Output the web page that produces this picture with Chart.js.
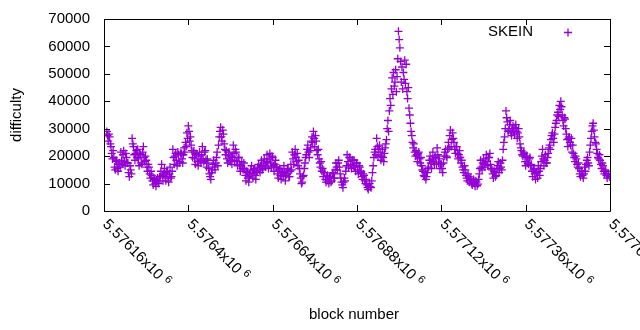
<!DOCTYPE html>
<html>
<head>
<meta charset="utf-8">
<script src="https://cdn.jsdelivr.net/npm/chart.js@4.4.1/dist/chart.umd.min.js"></script>
<style>
  html, body { margin: 0; padding: 0; background: #fff; }
  canvas { display: block; }
</style>
</head>
<body>
<canvas id="chart" width="640" height="330"></canvas>
<script>
// block range and sampling step of the SKEIN series
var firstBlock = 5576168;
var blockStep = 2;

// SKEIN difficulty, one value per sampled block
var skeinDifficulty = [
  29000, 27500, 25500, 28000, 27000, 24500,
  23500, 21000, 19000, 22000,
  19500, 16000, 15000, 18500, 18000, 15500, 14500, 17000, 17500, 16000,
  21500, 18500, 17000, 20500, 22000, 18000, 16500, 21000, 19500, 17500,
  17500, 14000, 12500, 16500, 15000, 13500,
  26500, 24500,
  23500, 20500, 18500, 21000, 22000, 19500,
  22500, 19000, 16500, 21000, 20500, 17500, 17000, 21500, 23500, 19500, 18000, 20000,
  18500, 16000, 14500, 17000, 16000, 13500, 12000, 14500,
  13000, 11000, 9500, 12000, 11500, 10000, 9000, 11000, 12000, 10500, 10000, 12500,
  12500, 14500, 17000, 13000, 11000, 13500,
  15500, 12500, 11000, 14000, 14500, 12000, 10500, 13500, 16000, 12000, 12500, 14500,
  22500, 19500, 17000, 20000, 21000, 18500, 16500, 21500, 20500, 17500, 18000, 21000,
  21000, 19000, 17500, 20500, 23000, 21500, 25000, 23500,
  28500, 26500, 31000, 29000, 25500, 27000,
  24000, 22000, 19500, 21500,
  22000, 19000, 17000, 21000, 20500, 18000, 16500, 20000, 21500, 18500,
  17500, 20500, 23500, 19000, 18000, 21500, 22000, 18500, 16000, 19000,
  17500, 15500, 13500, 12500, 11500, 14000, 15000, 17000,
  18500, 16000, 15000, 17500, 19500, 21500, 16500, 24000,
  27000, 29000, 30500, 27000, 25500, 29500, 28000, 24500, 22500, 20500,
  22000, 19000, 17500, 20500, 21500, 18500, 18000, 20000,
  17000, 19500, 24000, 21000, 18500, 22500, 21500, 18000, 16500, 19500,
  19500, 17000, 14500, 16500, 18000, 15500, 15000, 17500,
  15500, 13000, 11000, 14500, 14000, 12000, 10500, 12500, 13500, 15000,
  16500, 13500, 12000, 15000, 15500, 13000, 11500, 14000, 14500, 16000, 17000, 15000,
  14000, 16500, 18500, 15000, 15500, 17500, 19000, 16500, 16000, 18000,
  20500, 18000, 15500, 19000, 21000, 17500, 16000, 20000, 19500, 16500, 14500, 17000, 18500, 16000,
  16000, 13500, 12000, 15000, 15500, 13000, 11500, 14500, 14000, 12500, 16500,
  14000, 11000, 13000, 13500, 15000, 15500, 12500, 12500, 14500, 17000, 15000,
  21500, 19000, 17000, 20500, 22500, 19500, 18000, 21000, 16500, 18500,
  15500, 13500, 12000, 10000, 10500, 12500, 13000, 15500, 17500, 19500,
  20500, 22500, 24000, 21500, 19500, 22000, 23000, 25500,
  27000, 25000, 29000, 26500, 23500, 27500, 25500, 22000, 20500, 22500,
  19000, 17500, 16000, 18000, 14500, 15500, 12500, 14000,
  14000, 11500, 10500, 12500, 13000, 11000, 10000, 12000, 12500, 10500, 11000, 13500, 14000, 12000, 12000, 15000,
  17500, 16000, 15000, 17500, 18500, 16000, 13500, 12000,
  10500, 9500, 8500, 10500, 12000, 11000, 14500, 16500,
  20500, 18000, 16000, 19500, 19500, 17000, 15500, 18500, 18500, 16500,
  18500, 16000, 14500, 17500, 17500, 15000, 13500, 16500, 16000, 14000,
  14500, 12500, 11500, 13500, 13000, 11000, 10000, 11500,
  9500, 8500, 7800, 9000, 10000, 8800, 8500, 11000,
  14000, 16500, 19500, 21500,
  22500, 20500, 26500, 23500, 20000, 22500,
  24000, 21500, 18500, 20000, 22500, 19500, 18000, 21000, 23000, 24500,
  26000, 30000, 33000, 29000,
  36500, 41000, 38500, 44500,
  48500, 42500, 50500, 45500, 47000, 51500, 43500, 49000,
  55500, 65500, 62500, 59500,
  54500, 47000, 52500, 44500, 50500, 48000, 55000, 46500,
  53500, 43500, 41000, 45000, 37500, 35000, 32000, 29000,
  27500, 25000, 23000, 24500, 21500, 20000,
  22000, 20500, 18000, 21000, 21500, 19000, 17500, 19500,
  16500, 15000, 14500, 13000, 12500, 14000, 11500, 12500, 14000, 15500,
  16000, 18500, 20000, 17500, 15500, 19000, 21500, 18000, 17000, 20000, 19500, 17000,
  23000, 20500, 17500, 19000, 15500, 17000,
  17000, 15500, 14000, 17500, 20000, 21500, 22500, 20000,
  19500, 22500, 25000, 23000, 27500, 29500, 23500, 26000,
  28500, 26500, 25000, 22500, 21000, 23500,
  23500, 21000, 19000, 20500, 22000, 19500,
  17500, 18500, 16000, 15000, 14000, 16500, 15000, 13000,
  12000, 11000, 13500, 12500, 10500, 11500, 12000, 10000,
  9500, 10500, 11500, 10000, 9000, 11000, 10500, 9200, 9800, 11500,
  13500, 15500, 18500, 16000, 15000, 17500, 19000, 17000, 16000, 18000,
  20500, 18000, 16500, 19500, 19500, 21000, 17000, 15500,
  15000, 13500, 12000, 14500, 14000, 12500, 13000, 15500,
  16500, 18000, 14000, 15500, 17500, 16000, 15000, 18500,
  22500, 25000, 27000, 30000, 36500, 34000, 32500, 29000,
  29500, 31500, 33000, 28500, 27500, 30000, 31000, 29000,
  28000, 30500, 31500, 29000, 26500, 28500, 30000, 27000,
  24500, 23000, 22000, 20500, 20000, 21500,
  21000, 18000, 16500, 19500, 20000, 17500, 17000, 19000, 19500, 16500,
  17000, 14500, 12500, 15000, 15500, 13500, 11500, 14000, 14000, 12000, 16500, 14500, 13000, 15500,
  18000, 20000, 22500, 19000, 16500, 18500, 20500, 17500,
  17500, 19500, 21000, 23000, 24000, 22500,
  26000, 27500, 28500, 26500, 25000, 28000, 30500, 32000,
  33000, 35000, 36000, 34500, 38500, 37000, 40000, 38000,
  35000, 33000, 31000, 34000, 33500, 30000,
  28000, 26000, 23500, 26500, 27000, 25000, 24000, 26500, 21500, 24000,
  21000, 19500, 18000, 20000, 19000, 17000, 16000, 17500,
  15500, 13500, 12500, 14500, 14500, 13000, 12000, 13500, 16000, 14500,
  17000, 18500, 19500, 17500, 16500, 21500,
  24000, 26500, 29000, 31000, 32000, 29500, 27000, 25000,
  24500, 22500, 21000, 19500, 19000, 20500,
  18500, 17000, 15500, 17500, 16500, 14500, 13500, 15000,
  14500, 13000, 12000, 13500, 13500, 12500
];

var yTicks = [0, 10000, 20000, 30000, 40000, 50000, 60000, 70000];
var xTicks = [5576160, 5576400, 5576640, 5576880, 5577120, 5577360, 5577600];
var xTickLabels = ['5.57616x10', '5.5764x10', '5.57664x10', '5.57688x10', '5.57712x10', '5.57736x10', '5.5776x10'];
var xTickExponent = '6';

var points = skeinDifficulty.map(function (v, i) {
    return { x: firstBlock + i * blockStep, y: v };
});

var FONT = '"Liberation Sans", Arial, sans-serif';
var VIOLET = '#9400d3';

// frame, inward ticks, rotated x labels, axis titles and key
var gnuplotFrame = {
    id: 'gnuplotFrame',
    afterDraw: function (chart) {
        var ctx = chart.ctx;
        var a = chart.chartArea;
        var xs = chart.scales.x;
        var ys = chart.scales.y;
        var t = 6;

        ctx.save();
        ctx.strokeStyle = '#000';
        ctx.lineWidth = 1;
        ctx.beginPath();
        ctx.rect(Math.round(a.left) + 0.5, Math.round(a.top) + 0.5,
                 Math.round(a.right - a.left), Math.round(a.bottom - a.top));
        yTicks.forEach(function (v) {
            var py = Math.round(ys.getPixelForValue(v)) + 0.5;
            ctx.moveTo(a.left, py); ctx.lineTo(a.left + t, py);
            ctx.moveTo(a.right, py); ctx.lineTo(a.right - t, py);
        });
        xTicks.forEach(function (v) {
            var px = Math.round(xs.getPixelForValue(v)) + 0.5;
            ctx.moveTo(px, a.bottom); ctx.lineTo(px, a.bottom - t);
            ctx.moveTo(px, a.top); ctx.lineTo(px, a.top + t);
        });
        ctx.stroke();

        // x tick labels, turned 45 degrees clockwise
        ctx.fillStyle = '#000';
        xTicks.forEach(function (v, i) {
            var px = xs.getPixelForValue(v);
            ctx.save();
            ctx.translate(px + 1, a.bottom + 11);
            ctx.rotate(Math.PI / 4);
            ctx.textAlign = 'left';
            ctx.textBaseline = 'middle';
            ctx.font = '15px ' + FONT;
            var label = xTickLabels[i];
            ctx.fillText(label, 0, 0);
            var w = ctx.measureText(label + ' ').width;
            ctx.font = '11px ' + FONT;
            ctx.fillText(xTickExponent, w, -4);
            ctx.restore();
        });

        // axis titles
        ctx.font = '15px ' + FONT;
        ctx.textAlign = 'center';
        ctx.textBaseline = 'middle';
        ctx.fillText('block number', (a.left + a.right) / 2 - 3, 315);
        ctx.save();
        ctx.translate(17, (a.top + a.bottom) / 2);
        ctx.rotate(-Math.PI / 2);
        ctx.fillText('difficulty', 0, 0);
        ctx.restore();

        // key
        ctx.textAlign = 'right';
        ctx.fillText('SKEIN', 533, 32);
        ctx.strokeStyle = VIOLET;
        ctx.lineWidth = 1.3;
        ctx.beginPath();
        ctx.moveTo(564, 32.5); ctx.lineTo(572, 32.5);
        ctx.moveTo(568, 28.5); ctx.lineTo(568, 36.5);
        ctx.stroke();
        ctx.restore();
    }
};

var chart = new Chart(document.getElementById('chart').getContext('2d'), {
    type: 'scatter',
    data: {
        datasets: [{
            label: 'SKEIN',
            data: points,
            pointStyle: 'cross',
            pointRadius: 4,
            pointBorderWidth: 1.3,
            borderColor: VIOLET,
            backgroundColor: VIOLET
        }]
    },
    options: {
        responsive: false,
        animation: false,
        devicePixelRatio: 1,
        layout: { padding: { top: 19, right: 30, left: 0, bottom: 0 } },
        plugins: { legend: { display: false }, tooltip: { enabled: false } },
        scales: {
            x: {
                type: 'linear',
                min: 5576160,
                max: 5577600,
                grid: { display: false, drawTicks: false },
                border: { display: false },
                ticks: { display: false },
                afterFit: function (scale) {
                    scale.height = 119;
                    scale.paddingLeft = 0;
                    scale.paddingRight = 0;
                }
            },
            y: {
                min: 0,
                max: 70000,
                grid: { display: false, drawTicks: false },
                border: { display: false },
                ticks: {
                    stepSize: 10000,
                    padding: 14,
                    color: '#000',
                    font: { family: FONT, size: 15 },
                    callback: function (v) { return String(v); }
                },
                afterFit: function (scale) {
                    scale.width = 104;
                    scale.paddingTop = 0;
                    scale.paddingBottom = 0;
                }
            }
        }
    },
    plugins: [gnuplotFrame]
});
</script>
</body>
</html>
